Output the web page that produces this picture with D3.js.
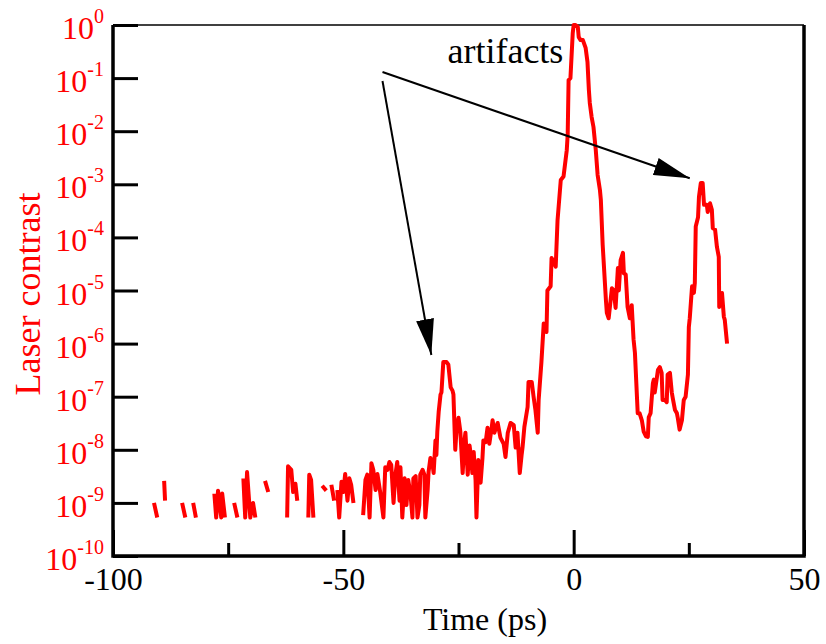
<!DOCTYPE html>
<html>
<head>
<meta charset="utf-8">
<script src="https://cdn.jsdelivr.net/npm/d3@7"></script>
<style>
  body { margin: 0; background: #fff; }
  svg { display: block; font-family: "Liberation Serif", "Times New Roman", serif; }
</style>
</head>
<body>
<script>
const width = 826;
const height = 644;

// time (ps) and laser contrast, null = gap in the trace
const times = [
  -91.1, -90.4, null,
  -88.9, -88.7, null,
  -85.0, -84.3, null,
  -82.6, -82.0, null,
  -78.0, -77.6, -77.2, -76.5, -76.3, -75.7, null,
  -73.7, -73.0, null,
  -71.7, -71.3, -70.9, -70.2, -69.6, -69.1, null,
  -67.0, -66.3, null,
  -62.2, -62.0, -61.3, -60.9, -60.4, -60.0, null,
  -57.6, -57.4, -57.0, -56.5, null,
  -54.6, -53.7, null,
  -52.6, -52.0, null,
  -51.3, -50.9, -50.4, -50.0, -49.6, -49.1, -48.7, -48.3, -47.8, null,
  -45.7, -45.2, -44.8, -44.3, -43.9, -43.5, -43.0, -42.6, -42.0, -41.3,
  -40.9, -40.4, -40.0, -39.6, -39.1, -38.7, -38.3, -37.8, -37.6, -37.2,
  -36.7, -36.3, -35.9, -35.4, -35.0, -34.8, -34.3, -33.9, -33.5, -33.3,
  -32.8, -32.4, -32.2, -31.7, -31.5, -31.1, -30.7, -30.4, -30.0, -29.8,
  -29.6, -29.3, -28.9, -28.7, -28.3, -27.6, -27.2, -26.7, -26.3, -26.1,
  -25.7, -25.4, -25.0, -24.6, -24.1, -23.7, -23.5, -23.0, -22.6, -22.2,
  -22.0, -21.7, -21.3, -21.1, -20.7, -20.2, -19.8, -19.6, -19.1, -18.7,
  -18.3, -17.8, -17.6, -17.2, -16.7, -16.5, -16.1, -15.9, -15.2, -14.8,
  -14.3, -13.7, -13.0, -12.6, -12.2, -11.7, -11.3, -11.1, -10.7, -10.0,
  -9.8, -9.1, -8.7, -8.3, -7.8, -7.6, -7.0, -6.5, -5.9, -5.7,
  -5.0, -4.8, -3.9, -3.5, -2.8, -2.2, -1.5, -1.3, -1.1, -0.7,
  -0.2, 0.0, 0.4, 0.9, 1.1, 1.5, 2.0, 2.6, 3.0, 3.3,
  3.5, 3.9, 4.3, 4.8, 5.2, 5.7, 5.9, 6.3, 7.0, 7.2,
  7.6, 8.3, 8.7, 9.1, 9.6, 9.8, 10.2, 10.7, 10.9, 11.3,
  11.7, 12.2, 12.6, 13.0, 13.3, 13.9, 14.3, 14.8, 15.2, 15.7,
  16.1, 16.3, 16.7, 17.2, 17.4, 17.6, 18.3, 18.7, 19.1, 19.3,
  19.8, 20.2, 20.4, 20.9, 21.3, 21.5, 22.0, 22.4, 22.6, 23.0,
  23.5, 23.9, 24.3, 24.8, 25.0, 25.2, 25.7, 26.1, 26.3, 26.5,
  27.0, 27.2, 27.6, 28.0, 28.3, 28.9, 29.1, 29.6, 30.0, 30.2,
  30.7, 31.1, 31.5, 31.6, 32.2, 32.6, 32.8, 33.3
];

const contrast = [
  1.0e-9, 5.3e-10, null,
  2.6e-9, 1.1e-9, null,
  1.0e-9, 5.3e-10, null,
  1.0e-9, 5.3e-10, null,
  1.5e-9, 5.3e-10, 1.7e-9, 5.3e-10, 1.5e-9, 5.3e-10, null,
  1.0e-9, 5.3e-10, null,
  2.9e-9, 5.3e-10, 3.8e-9, 5.3e-10, 1.0e-9, 5.3e-10, null,
  2.6e-9, 1.6e-9, null,
  5.3e-10, 4.9e-9, 4.2e-9, 1.6e-9, 2.3e-9, 1.1e-9, null,
  5.3e-10, 3.4e-9, 2.7e-9, 5.3e-10, null,
  2.1e-9, 1.7e-9, null,
  2.2e-9, 1.1e-9, null,
  1.75e-9, 5.3e-10, 2.5e-9, 1.6e-9, 3.5e-9, 1.1e-9, 2.9e-9, 2.2e-9, 1.0e-9, null,
  5.9e-10, 2.7e-9, 3.4e-9, 5.3e-10, 5.6e-9, 4.2e-9, 1.75e-9, 3.5e-9, 1.6e-9, 5.3e-10,
  4.7e-9, 4.2e-9, 5.9e-9, 5.2e-9, 1.0e-9, 3.4e-9, 5.9e-9, 1.1e-9, 4.7e-9, 5.3e-10,
  2.9e-9, 9.1e-10, 2.7e-9, 1.4e-9, 5.3e-10, 2.9e-9, 3.2e-9, 5.3e-10, 9.1e-10, 3.4e-9,
  4.2e-9, 3.4e-9, 5.3e-10, 1.75e-9, 3.8e-9, 7.0e-9, 5.9e-9, 3.65e-9, 1.5e-8, 8.0e-9,
  2.2e-8, 5.2e-8, 1.1e-7, 1.2e-7, 4.5e-7, 4.5e-7, 4.0e-7, 1.5e-7, 1.3e-7, 1.1e-7,
  1.0e-8, 2.6e-8, 4.0e-8, 2.2e-8, 3.65e-9, 1.5e-8, 2.1e-8, 3.4e-9, 1.2e-8, 6.4e-9,
  3.65e-9, 9.1e-9, 2.7e-9, 5.3e-10, 6.4e-9, 2.4e-9, 7.0e-9, 1.5e-8, 1.4e-8, 2.6e-8,
  1.3e-8, 2.6e-8, 3.6e-8, 2.1e-8, 2.9e-8, 3.2e-8, 2.1e-8, 1.7e-8, 1.3e-8, 7.3e-9,
  2.1e-8, 3.2e-8, 2.9e-8, 1.1e-8, 2.1e-8, 3.65e-9, 8.0e-9, 1.1e-8, 2.7e-8, 6.4e-8,
  1.9e-7, 1.9e-7, 1.0e-7, 5.6e-8, 2.1e-8, 8.7e-8, 4.5e-7, 2.4e-6, 1.65e-6, 1.0e-5,
  1.2e-5, 4.1e-5, 2.8e-5, 2.1e-4, 1.2e-3, 1.4e-3, 4.4e-3, 8.5e-3, 9.2e-2, 0.1,
  0.71, 1.0, 1.0, 0.92, 0.59, 0.52, 0.52, 0.37, 0.2, 6.0e-2,
  3.4e-2, 1.85e-2, 1.2e-2, 4.4e-3, 1.5e-3, 7.8e-4, 5.1e-4, 7.2e-5, 6.6e-6, 3.8e-6,
  3.0e-6, 1.1e-5, 1.0e-5, 4.7e-6, 2.65e-5, 1.0e-5, 3.75e-5, 5.1e-5, 2.1e-5, 2.0e-5,
  4.9e-6, 3.0e-6, 5.3e-6, 1.2e-6, 6.7e-7, 4.9e-8, 4.9e-8, 3.6e-8, 2.2e-8, 1.8e-8,
  1.75e-8, 4.1e-8, 4.9e-8, 1.8e-7, 2.1e-7, 1.2e-7, 3.2e-7, 3.6e-7, 2.8e-7, 8.7e-8,
  8.7e-8, 7.9e-8, 2.6e-7, 2.8e-7, 1.2e-7, 9.5e-8, 5.6e-8, 4.9e-8, 4.0e-8, 2.4e-8,
  3.6e-8, 8.7e-8, 1.0e-7, 2.6e-7, 2.05e-6, 3.0e-6, 1.2e-5, 9.0e-6, 1.4e-5, 1.6e-4,
  2.4e-4, 5.8e-4, 1.06e-3, 1.06e-3, 4.1e-4, 4.1e-4, 3.0e-4, 4.4e-4, 3.3e-4, 1.5e-4,
  1.4e-4, 6.6e-5, 4.3e-5, 4.9e-6, 9.0e-6, 3.2e-6, 2.8e-6, 1.0e-6
];

const xMajor = [-100, -50, 0, 50];
const xMinor = [-75, -25, 25];
const yExponents = [0, -1, -2, -3, -4, -5, -6, -7, -8, -9, -10];

// annotation: arrows start near the label and point at the two artifacts
const arrowStarts = [[-41.5, 0.13], [-41.5, 0.088]];
const arrowTips = [[25.2, 1.3e-3], [-30.9, 6.1e-7]];

const svg = d3
  .select("body")
  .append("svg")
  .attr("width", width)
  .attr("height", height);

svg.append("rect").attr("width", width).attr("height", height).attr("fill", "#fff");

const x = d3.scaleLinear().domain([-100, 50]).range([113, 804]);
const y = d3.scaleLog().domain([1e-10, 1]).range([556, 25]);

// axes (ticks point inward)
const xAxis = d3
  .axisBottom(x)
  .tickValues(xMajor)
  .tickSizeInner(-26)
  .tickSizeOuter(0)
  .tickPadding(11)
  .tickFormat((d) => String(d));

const gx = svg.append("g").attr("transform", `translate(0, ${y(1e-10)})`).call(xAxis);

const xAxisMinor = d3.axisBottom(x).tickValues(xMinor).tickSizeInner(-13).tickSizeOuter(0).tickFormat("");
const gxm = svg.append("g").attr("transform", `translate(0, ${y(1e-10)})`).call(xAxisMinor);

const yAxis = d3
  .axisLeft(y)
  .tickValues(yExponents.map((e) => Math.pow(10, e)))
  .tickSizeInner(-25)
  .tickSizeOuter(0)
  .tickFormat("");
const gy = svg.append("g").attr("transform", `translate(${x(-100)}, 0)`).call(yAxis);

[gx, gxm, gy].forEach((g) => {
  g.select(".domain").remove();
  g.selectAll(".tick line").attr("stroke", "#000").attr("stroke-width", 3);
});

gx.selectAll(".tick text")
  .attr("fill", "#000")
  .attr("font-size", 32)
  .attr("font-family", '"Liberation Serif", "Times New Roman", serif');

// y tick labels 10^n
const yLabels = svg
  .append("g")
  .selectAll("text")
  .data(yExponents)
  .enter()
  .append("text")
  .attr("x", x(-100) - 9)
  .attr("y", (d) => y(Math.pow(10, d)) + 14)
  .attr("text-anchor", "end")
  .attr("fill", "#ff0000")
  .attr("font-size", 32);
yLabels.append("tspan").text("10");
yLabels
  .append("tspan")
  .attr("font-size", 20)
  .attr("dy", -16)
  .text((d) => String(d));

// frame
const frame = svg.append("g").attr("stroke", "#000").attr("fill", "none");
frame.append("line").attr("x1", x(-100)).attr("x2", x(50)).attr("y1", y(1)).attr("y2", y(1)).attr("stroke-width", 1.5);
frame.append("path")
  .attr("d", `M${x(-100)},${y(1)}V${y(1e-10)}H${x(50)}V${y(1)}`)
  .attr("stroke-width", 3.5);

// data trace
const points = times.map((t, i) => ({ t, c: contrast[i] }));
const line = d3
  .line()
  .defined((d) => d.t != null && d.c != null)
  .x((d) => x(d.t))
  .y((d) => y(d.c));

svg
  .append("path")
  .datum(points)
  .attr("d", line)
  .attr("fill", "none")
  .attr("stroke", "#ff0000")
  .attr("stroke-width", 4)
  .attr("stroke-linejoin", "round");

// arrows
svg
  .append("defs")
  .append("marker")
  .attr("id", "head")
  .attr("markerUnits", "userSpaceOnUse")
  .attr("viewBox", "-36 -9 36 18")
  .attr("markerWidth", 36)
  .attr("markerHeight", 18)
  .attr("refX", 0)
  .attr("refY", 0)
  .attr("orient", "auto")
  .append("path")
  .attr("d", "M0,0L-36,-9L-36,9Z")
  .attr("fill", "#000");

arrowStarts.forEach((s, i) => {
  svg
    .append("line")
    .attr("x1", x(s[0]))
    .attr("y1", y(s[1]))
    .attr("x2", x(arrowTips[i][0]))
    .attr("y2", y(arrowTips[i][1]))
    .attr("stroke", "#000")
    .attr("stroke-width", 2)
    .attr("marker-end", "url(#head)");
});

svg
  .append("text")
  .attr("x", x(-27.4))
  .attr("y", y(0.19))
  .attr("font-size", 36)
  .attr("fill", "#000")
  .text("artifacts");

// axis titles
svg
  .append("text")
  .attr("x", 485)
  .attr("y", 630)
  .attr("text-anchor", "middle")
  .attr("font-size", 32)
  .attr("fill", "#000")
  .text("Time (ps)");

svg
  .append("text")
  .attr("transform", "translate(40, 294) rotate(-90)")
  .attr("text-anchor", "middle")
  .attr("font-size", 36)
  .attr("fill", "#ff0000")
  .text("Laser contrast");
</script>
</body>
</html>
